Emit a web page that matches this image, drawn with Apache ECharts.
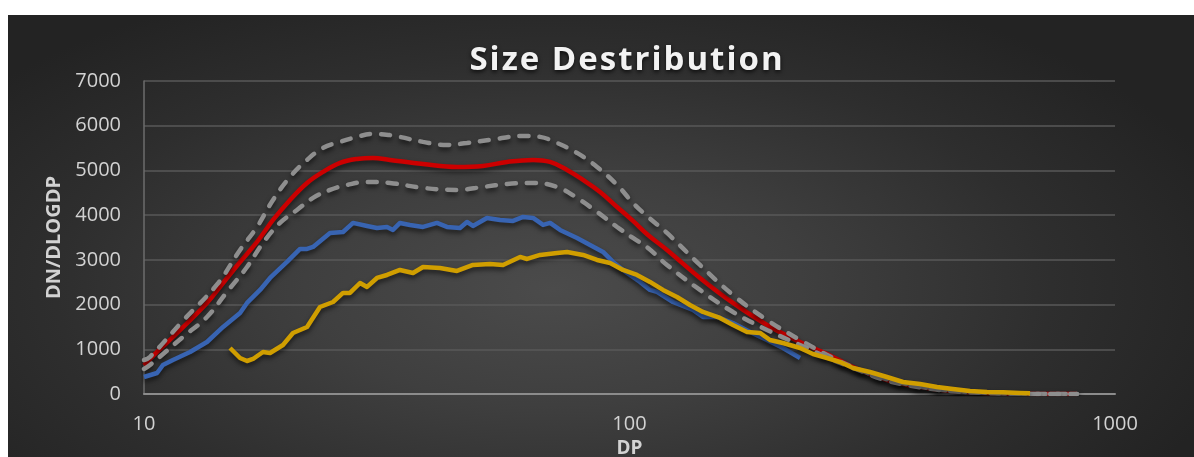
<!DOCTYPE html>
<html>
<head>
<meta charset="utf-8">
<script src="https://cdn.jsdelivr.net/npm/echarts@6/dist/echarts.min.js"></script>
<style>
  html, body { margin: 0; padding: 0; background: #ffffff; width: 1194px; height: 457px; overflow: hidden; }
  #chart {
    position: absolute; left: 8px; top: 15px; width: 1186px; height: 442px;
    background: radial-gradient(ellipse 60% 75% at 46% 62%, #4b4b4b 0%, #3f3f3f 35%, #2e2e2e 70%, #232323 100%);
  }
  #title {
    position: absolute; left: 8px; top: 38px; width: 1238px; text-align: center;
    font-family: 'Open Sans', sans-serif; font-weight: 700; font-size: 33px; line-height: 40px;
    letter-spacing: 2px; color: #f2f2f2; text-shadow: 0 2px 4px rgba(0,0,0,0.75);
    pointer-events: none;
  }
</style>
</head>
<body>
<div id="chart"></div>
<div id="title"></div>
<script>
// Particle size distribution: dN/dlogDp against diameter Dp (log scale)
const chartTitle = 'Size Destribution';
const xName = 'DP';
const yName = 'DN/DLOGDP';
const yTicks = [0, 1000, 2000, 3000, 4000, 5000, 6000, 7000];
const xTicks = [10, 100, 1000];

// Mean distribution [Dp, dN/dlogDp]
const meanCurve = [
  [10, 640], [10.64, 940], [11.47, 1275], [13.48, 2036], [14.55, 2483], [15.77, 2953],
  [17.09, 3400], [18.44, 3893], [19.99, 4340], [21.67, 4720], [23.37, 4966], [25.34, 5168],
  [27.46, 5257], [29.63, 5280], [32.11, 5235], [37.56, 5145], [44.12, 5078], [49.90, 5100],
  [55.96, 5190], [63.30, 5235], [68.62, 5190], [74.38, 5011], [80.23, 4787], [86.97, 4519],
  [94.28, 4183], [101.67, 3870], [109.17, 3557], [119.47, 3221], [139.69, 2595], [163.36, 2036],
  [191.96, 1544], [224.52, 1163], [262.51, 828], [288.62, 600], [339.11, 313], [396.68, 157],
  [463.84, 67], [545.09, 22], [637.52, 5], [734.76, 0], [834.84, 0]
];

// Upper bound
const upperCurve = [
  [10, 760], [10.29, 830], [12.03, 1640], [14.14, 2450], [15.77, 3221], [17.09, 3736],
  [18.44, 4340], [19.99, 4855], [21.67, 5235], [23.37, 5503], [25.34, 5638], [27.46, 5750],
  [29.63, 5817], [32.11, 5790], [33.67, 5750], [37.56, 5638], [42.07, 5570], [46.26, 5615],
  [51.59, 5682], [60.37, 5772], [65.44, 5750], [70.93, 5615], [77.98, 5391], [85.74, 5078],
  [94.28, 4676], [101.67, 4273], [109.17, 3960], [119.47, 3602], [139.69, 2886], [163.36, 2215],
  [191.96, 1655], [224.52, 1208], [262.51, 805], [298.36, 537], [339.11, 330], [396.68, 165],
  [463.84, 70], [545.09, 24], [637.52, 6], [734.76, 0], [834.84, 0]
];

// Lower bound
const lowerCurve = [
  [10, 560], [10.29, 649], [12.03, 1275], [13.48, 1723], [14.82, 2282], [16.30, 2841],
  [17.58, 3378], [19.06, 3826], [20.66, 4116], [22.29, 4385], [24.16, 4564], [26.19, 4676],
  [28.80, 4743], [32.11, 4720], [37.56, 4609], [44.12, 4564], [49.90, 4631], [55.96, 4698],
  [63.30, 4720], [70.93, 4631], [77.98, 4385], [85.74, 4072], [94.28, 3736], [101.67, 3490],
  [109.17, 3266], [119.47, 2886], [139.69, 2327], [163.36, 1834], [191.96, 1432], [224.52, 1096],
  [262.51, 761], [298.36, 520], [339.11, 300], [396.68, 150], [463.84, 62], [545.09, 20],
  [637.52, 4], [734.76, 0], [834.84, 0]
];

// Measured scan A (blue)
const scanA = [
  [10, 380], [10.64, 470], [10.94, 649], [11.47, 761], [12.44, 940], [13.48, 1163],
  [14.55, 1499], [15.77, 1812], [16.30, 2036], [17.34, 2327], [18.18, 2595], [19.70, 2953],
  [20.96, 3244], [21.67, 3244], [22.29, 3289], [24.16, 3602], [25.70, 3624], [26.95, 3826],
  [28.80, 3758], [30.19, 3714], [31.66, 3736], [32.57, 3669], [33.67, 3826], [35.31, 3781],
  [37.56, 3736], [40.13, 3826], [42.07, 3736], [44.75, 3714], [46.26, 3848], [47.59, 3758],
  [50.86, 3937], [54.13, 3893], [57.57, 3870], [60.37, 3960], [63.30, 3937], [66.38, 3781],
  [68.62, 3826], [71.95, 3669], [77.98, 3490], [82.94, 3333], [88.22, 3177], [92.51, 2953],
  [98.82, 2707], [105.11, 2506], [110.21, 2327], [113.93, 2282], [122.91, 2058], [135.13, 1879],
  [141.69, 1723], [151.44, 1723], [163.36, 1588], [177.10, 1387], [191.96, 1208], [207.11, 1029],
  [224.52, 805]
];

// Measured scan B (gold)
const scanB = [
  [15.04, 1029], [15.77, 805], [16.30, 738], [16.77, 783], [17.58, 940], [18.18, 917],
  [19.33, 1096], [20.27, 1365], [21.67, 1499], [23.04, 1946], [24.51, 2058], [25.70, 2260],
  [26.56, 2260], [27.86, 2483], [28.80, 2394], [30.19, 2595], [31.66, 2662], [33.67, 2774],
  [35.82, 2707], [37.56, 2841], [40.70, 2819], [44.12, 2752], [47.59, 2886], [51.59, 2908],
  [54.90, 2886], [59.51, 3065], [61.52, 3020], [65.44, 3110], [70.93, 3154], [74.38, 3177],
  [80.23, 3110], [85.74, 2998], [91.20, 2931], [96.97, 2774], [103.62, 2662], [110.21, 2506],
  [117.22, 2327], [125.26, 2170], [133.22, 1991], [141.69, 1834], [153.61, 1700], [163.36, 1544],
  [174.60, 1387], [185.69, 1365], [194.70, 1208], [207.11, 1141], [224.52, 1029], [238.76, 895],
  [255.15, 805], [271.37, 716], [288.62, 582], [312.84, 492], [339.11, 380], [365.97, 268],
  [396.68, 224], [430.0, 157], [463.84, 112], [502.81, 67], [545.09, 45], [588.12, 40],
  [637.52, 22], [668.44, 15]
];

document.getElementById('title').textContent = chartTitle;

const chart = echarts.init(document.getElementById('chart'), null, { renderer: 'canvas' });

const shadow = { shadowColor: 'rgba(0,0,0,0.6)', shadowBlur: 5, shadowOffsetY: 3 };
const labelFont = { color: '#d2d2d2', fontSize: 20, fontFamily: 'Open Sans' };

function lineSeries(name, data, style, smooth) {
  return {
    name, type: 'line', data, showSymbol: false, smooth,
    lineStyle: Object.assign({}, shadow, style),
    itemStyle: { color: style.color },
    silent: true, animation: false
  };
}

const dash = { color: '#8e8e8e', width: 4.5, type: [9, 11], cap: 'round' };

chart.setOption({
  backgroundColor: 'transparent',
  animation: false,
  grid: { left: 136, right: 79, top: 66, bottom: 63, outerBoundsMode: 'none', containLabel: false },
  xAxis: {
    type: 'log', logBase: 10, min: xTicks[0], max: xTicks[xTicks.length - 1],
    name: xName, nameLocation: 'middle', nameGap: 42,
    nameTextStyle: { color: '#d2d2d2', fontSize: 19, fontWeight: 'bold', fontFamily: 'Open Sans' },
    axisLine: { show: true, lineStyle: { color: '#8c8c8c', width: 2 } },
    axisTick: { show: false },
    minorTick: { show: false },
    splitLine: { show: false },
    axisLabel: Object.assign({ margin: 20, formatter: v => String(Math.round(v)) }, labelFont)
  },
  yAxis: {
    type: 'value', min: yTicks[0], max: yTicks[yTicks.length - 1], interval: 1000,
    name: yName, nameLocation: 'middle', nameGap: 80, nameRotate: 90,
    nameTextStyle: { color: '#d2d2d2', fontSize: 20, fontWeight: 'bold', fontFamily: 'Open Sans' },
    axisLine: { show: true, lineStyle: { color: '#6c6c6c', width: 1.5 } },
    axisTick: { show: false },
    splitLine: { show: true, lineStyle: { color: '#585858', width: 1.5 } },
    axisLabel: Object.assign({ margin: 23, formatter: v => String(v) }, labelFont)
  },
  series: [
    lineSeries('Mean', meanCurve, { color: '#cc0000', width: 4.5 }, 0.4),
    lineSeries('Upper', upperCurve, dash, 0.4),
    lineSeries('Lower', lowerCurve, dash, 0.4),
    lineSeries('Scan A', scanA, { color: '#3864b2', width: 4.5, join: 'round' }, false),
    lineSeries('Scan B', scanB, { color: '#d09e00', width: 4.5, join: 'round' }, false)
  ]
});
</script>
</body>
</html>
